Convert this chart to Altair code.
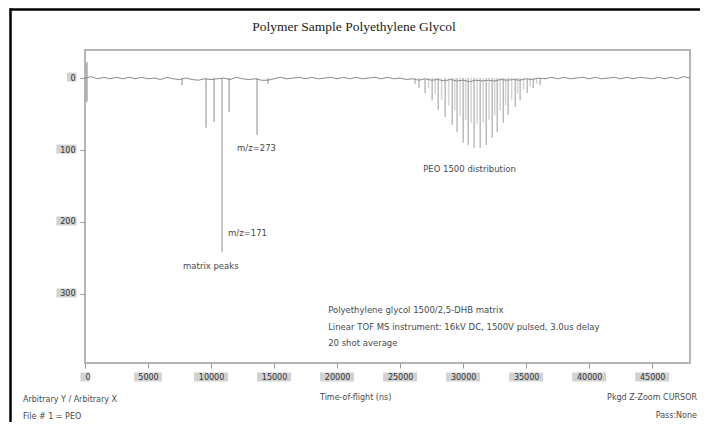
import altair as alt
import pandas as pd

# ---------------- data ----------------
base_ns = list(range(0, 48001, 500))
base_val = [0, -2, 1, -1, 1, -1, 1, -1, 1, -1, 1,
            0, 2, -1, 1, 2, 0, 2, 3, 1, 2,
            1, 0, 2, -1, 1, 2, 1, 3, 3, 1,
            -1, 1, 0, -1, 1, -1, 1, 0, -1, 1,
            -1, 1, -1, 1, 0, -1, 1, -1, 1, 0,
            2, 1, 3, 1, 3, 2, 4, 2, 4, 3,
            5, 3, 4, 3, 4, 2, 3, 2, 3, 1,
            2, 0, 1, -1, 1, -1, 1, 0, -1, 1,
            -1, 1, 0, -1, 1, -1, 1, -1, 0, 1,
            -1, 1, -1, 1, -2, 0]

matrix_ns = [7700, 9600, 10240, 10870, 11430, 13650, 14520]
matrix_depth = [10, 69, 61, 242, 47, 79, 8]

peo_ns = [26190, 26500, 26980, 27540, 28020, 28570, 29130, 29520, 30000, 30400,
          30870, 31350, 31830, 32300, 32700, 33180, 33570, 34130, 34520, 35080,
          35560, 36110]
peo_depth = [8, 14, 21, 31, 44, 54, 65, 75, 90, 93,
             97, 97, 93, 83, 75, 62, 51, 40, 31, 21,
             14, 10]

peo2_ns = [27260, 27780, 28290, 28850, 29330, 29760, 30200, 30640, 31110, 31590,
           32060, 32500, 32940, 33370, 33850, 34320, 34800, 35320, 35830]
peo2_depth = [14, 22, 30, 38, 45, 52, 58, 62, 64, 62,
              58, 52, 45, 38, 30, 22, 16, 11, 8]

spike_ns = [150]
spike_top = [-22]
spike_bottom = [33]

x_ticks = [0, 5000, 10000, 15000, 20000, 25000, 30000, 35000, 40000, 45000]
y_ticks = [0, 100, 200, 300]

title_text = "Polymer Sample Polyethylene Glycol"
info_lines = ["Polyethylene glycol 1500/2,5-DHB matrix",
              "Linear TOF MS instrument: 16kV DC, 1500V pulsed, 3.0us delay",
              "20 shot average"]
ann_text = ["m/z=273", "m/z=171", "matrix peaks", "PEO 1500 distribution"]
ann_ns = [12060, 11350, 7780, 26830]
ann_val = [97, 215, 261, 126]
info_ns = [19290, 19290, 19290]
info_val = [322, 346, 368]

# ---------------- chart ----------------
W, H = 605, 313
FONT = "DejaVu Sans"
GRAY_TXT = "#4a4a4a"
BOX = "#d2d2d2"

xs = alt.Scale(domain=[0, 48000], nice=False, zero=False)
ys = alt.Scale(domain=[-39, 396], reverse=True, nice=False, zero=False)
x_axis = alt.Axis(values=x_ticks, format="d", title=None, grid=False, domain=False,
                  tickSize=5, tickColor="#9a9a9a", labelPadding=5, labelFontSize=8,
                  labelColor="#333333", labelFont=FONT, zindex=2)
y_axis = alt.Axis(values=y_ticks, format="d", title=None, grid=False, domain=False,
                  tickSize=5, tickColor="#9a9a9a", labelPadding=5, labelFontSize=8,
                  labelColor="#333333", labelFont=FONT, zindex=2)

base_df = pd.DataFrame({"ns": base_ns, "v": base_val})
baseline = alt.Chart(base_df).mark_line(color="#8a8a8a", strokeWidth=1).encode(
    x=alt.X("ns:Q", scale=xs, axis=x_axis),
    y=alt.Y("v:Q", scale=ys, axis=y_axis),
)

def peak_layer(ns, depth, color, width):
    df = pd.DataFrame({"ns": ns, "d": depth, "z": [0] * len(ns)})
    return alt.Chart(df).mark_rule(color=color, strokeWidth=width).encode(
        x=alt.X("ns:Q", scale=xs, axis=x_axis),
        y=alt.Y("z:Q", scale=ys, axis=y_axis),
        y2=alt.Y2("d:Q"),
    )

peo2 = peak_layer(peo2_ns, peo2_depth, "#d4d4d4", 1.5)
peo = peak_layer(peo_ns, peo_depth, "#9a9a9a", 1)
matrix = peak_layer(matrix_ns, matrix_depth, "#8a8a8a", 1)

spike = alt.Chart(pd.DataFrame({"ns": spike_ns, "a": spike_top, "b": spike_bottom})).mark_rule(
    color="#8a8a8a", strokeWidth=1.2).encode(
    x=alt.X("ns:Q", scale=xs, axis=x_axis),
    y=alt.Y("a:Q", scale=ys, axis=y_axis),
    y2=alt.Y2("b:Q"),
)

# gray boxes behind x tick labels (centred custom symbols)
def box_path_center(w, h=9):
    hw = w / 10.0
    hh = h / 10.0
    return f"M{-hw},{-hh}H{hw}V{hh}H{-hw}Z"

xl = [str(v) for v in x_ticks]
xbox_df = pd.DataFrame({"ns": x_ticks, "lbl": xl})
xboxes = alt.Chart(xbox_df).mark_point(filled=True, size=100, color=BOX, opacity=1).encode(
    x=alt.X("ns:Q", scale=xs, axis=x_axis),
    y=alt.value(H + 14),
    shape=alt.Shape("lbl:N", scale=alt.Scale(domain=xl, range=[box_path_center(6.2 * len(s) + 3) for s in xl]), legend=None),
)

# gray boxes behind y tick labels (thick horizontal rules)
yboxes = []
for v in y_ticks:
    w = 5.2 * len(str(v)) + 3
    yboxes.append(
        alt.Chart(pd.DataFrame({"v": [v]})).mark_rule(color=BOX, strokeWidth=9, yOffset=-1).encode(
            x=alt.value(-10 - w), x2=alt.value(-8.5),
            y=alt.Y("v:Q", scale=ys, axis=y_axis),
        )
    )

ann_df = pd.DataFrame({"ns": ann_ns, "v": ann_val, "t": ann_text})
ann = alt.Chart(ann_df).mark_text(align="left", baseline="middle", font=FONT, fontSize=8.5,
                                  color=GRAY_TXT).encode(
    x=alt.X("ns:Q", scale=xs, axis=x_axis),
    y=alt.Y("v:Q", scale=ys, axis=y_axis),
    text="t:N",
)
info_df = pd.DataFrame({"ns": info_ns, "v": info_val, "t": info_lines})
info = alt.Chart(info_df).mark_text(align="left", baseline="middle", font=FONT, fontSize=8.5,
                                    color=GRAY_TXT).encode(
    x=alt.X("ns:Q", scale=xs, axis=x_axis),
    y=alt.Y("v:Q", scale=ys, axis=y_axis),
    text="t:N",
)

one = pd.DataFrame({"a": [0]})

def ptext(txt, x, y, align="left", size=8, font=FONT, color=GRAY_TXT):
    return alt.Chart(pd.DataFrame({"t": [txt]})).mark_text(
        align=align, baseline="middle", font=font, fontSize=size, color=color).encode(
        x=alt.value(x), y=alt.value(y), text="t:N")

title = ptext(title_text, 269, -23, align="center", size=13.5, font="Liberation Serif", color="#222222")
foot = [
    ptext("Arbitrary Y / Arbitrary X", -62, 350),
    ptext("File # 1 = PEO", -62, 367),
    ptext("Time-of-flight (ns)", 235, 348),
    ptext("Pkgd   Z-Zoom CURSOR", 612, 348, align="right"),
    ptext("Pass:None", 612, 366, align="right"),
]

frame_top = alt.Chart(one).mark_rule(color="#000000", strokeWidth=2.5).encode(
    x=alt.value(-75.5), x2=alt.value(615), y=alt.value(-40.5))
frame_left = alt.Chart(one).mark_rule(color="#000000", strokeWidth=2.5).encode(
    x=alt.value(-74.5), y=alt.value(-41.5), y2=alt.value(400))

chart = alt.layer(
    frame_top, frame_left, xboxes, *yboxes, peo2, baseline, peo, matrix, spike,
    ann, info, title, *foot
).properties(
    width=W, height=H,
    autosize=alt.AutoSizeParams(type="none"),
    padding={"left": 77, "top": 42, "right": 10, "bottom": 59},
    background="white",
).configure_view(stroke="#b5b5b5", strokeWidth=2)

chart.save("out.html", embed_options={"renderer": "svg", "actions": False})
